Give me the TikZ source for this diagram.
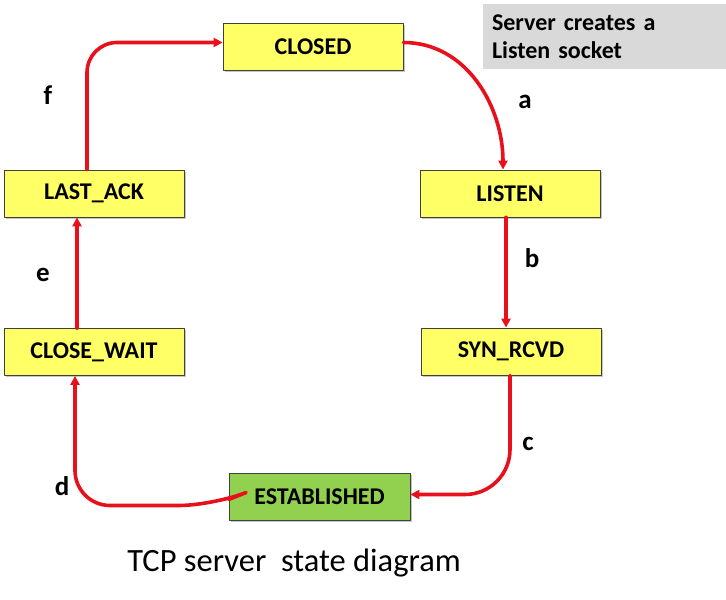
\documentclass[tikz,border=0pt]{standalone}
\usepackage{fontspec}
\setmainfont{Carlito}
\usetikzlibrary{shadows,arrows.meta}
\definecolor{boxyellow}{HTML}{FFFF66}
\definecolor{boxgreen}{HTML}{92D050}
\definecolor{notegray}{HTML}{D9D9D9}
\definecolor{arrred}{HTML}{E8101A}
\begin{document}
\begin{tikzpicture}[x=1pt, y=1pt, line join=round, line cap=round, >={Triangle[length=9pt, width=9pt]},
	state/.style={draw=black!75, line width=.8pt, fill=boxyellow, minimum width=180pt, minimum height=47pt,
		font=\fontsize{24}{26}\selectfont\bfseries, drop shadow={shadow xshift=2pt, shadow yshift=-2pt, opacity=.45}},
	arr/.style={->, draw=arrred, line width=3.6pt},
	lbl/.style={font=\fontsize{27}{28}\selectfont\bfseries}]
	\useasboundingbox (0,0) rectangle (726,600);
	% states
	\node[state] (closed) at(313,553.5){CLOSED};
	\node[state] (listen) at(510,406.5){LISTEN};
	\node[state] (synrcvd) at(511,248.5){SYN\_RCVD};
	\node[state, fill=boxgreen, minimum width=181pt] (established) at(319.5,103.5){ESTABLISHED};
	\node[state] (closewait) at(94,248){CLOSE\_WAIT};
	\node[state] (lastack) at(94,406.5){LAST\_ACK};
	% note
	\node[fill=notegray, minimum width=243pt, minimum height=65pt, text width=225pt, align=left,
		font=\fontsize{24}{28}\selectfont\bfseries] (note) at(604.5,563.5){Server creates a\\Listen socket};
	% transitions
	\draw[arr] ([yshift=4pt]closed.east) to[out=0, in=90] ([xshift=-7pt]listen.north);
	\draw[arr] ([xshift=-4pt]listen.south) -- ([xshift=-5pt]synrcvd.north);
	\draw[arr, rounded corners=45pt] ([xshift=-1pt]synrcvd.south) |- ([yshift=2pt]established.east);
	\draw[arr, rounded corners=35pt] ([yshift=-3pt]established.west) -- ++(-15,-6) -| ([xshift=-19pt]closewait.south);
	\draw[arr] ([xshift=-17pt]closewait.north) -- ([xshift=-17pt]lastack.south);
	\draw[arr, rounded corners=30pt] ([xshift=-7pt]lastack.north) |- ([yshift=4pt]closed.west);
	% labels
	\node[lbl] (la) at(525,498){a};
	\node[lbl] (lb) at(532,342){b};
	\node[lbl] (lc) at(528,156){c};
	\node[lbl] (ld) at(62,114){d};
	\node[lbl] (le) at(43,325){e};
	\node[lbl] (lf) at(48,505){f};
	\node[font=\fontsize{32.5}{34}\selectfont] (title) at(294,37){TCP server\ \ state diagram};
\end{tikzpicture}
\end{document}
